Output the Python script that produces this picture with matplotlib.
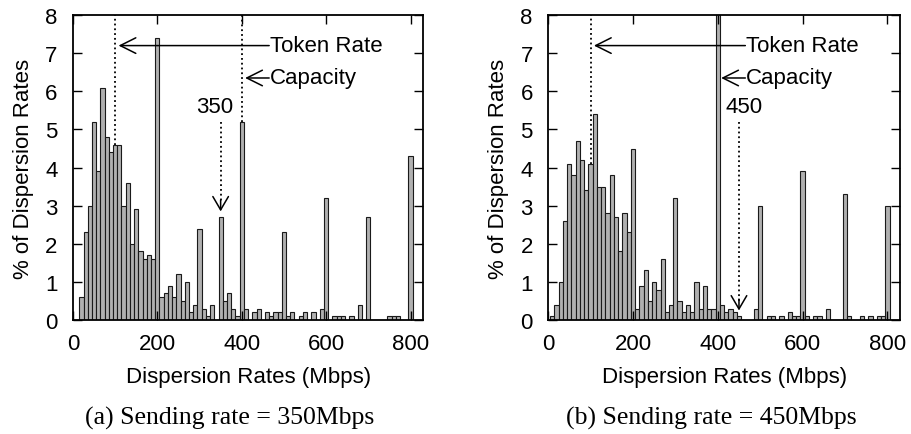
import matplotlib
matplotlib.use('Agg')
import matplotlib.pyplot as plt

plt.rcParams['font.family'] = ['Liberation Sans', 'DejaVu Sans']
plt.rcParams['font.size'] = 16

# dispersion rate bins (Mbps) and % of samples, sending rate = 350Mbps
rates_a = [20, 30, 40, 50, 60, 70, 80, 90, 100, 110, 120, 130, 140, 150, 160, 170,
           180, 190, 200, 210, 220, 230, 240, 250, 260, 270, 280, 290, 300, 310, 320,
           330, 350, 360, 370, 380, 390, 400, 410, 430, 440, 460, 470, 480, 490, 500,
           510, 520, 540, 550, 570, 590, 600, 620, 630, 640, 660, 680, 700, 750, 760,
           770, 800]
pct_a = [0.6, 2.3, 3.0, 5.2, 3.9, 6.1, 4.8, 4.4, 4.6, 4.6, 3.0, 3.6, 2.0, 2.9, 1.8, 1.6,
         1.7, 1.6, 7.4, 0.6, 0.7, 0.9, 0.6, 1.2, 0.5, 1.0, 0.2, 0.4, 2.4, 0.3, 0.1,
         0.4, 2.7, 0.5, 0.7, 0.3, 0.1, 5.2, 0.3, 0.2, 0.3, 0.2, 0.1, 0.2, 0.2, 2.3,
         0.1, 0.2, 0.1, 0.2, 0.2, 0.3, 3.2, 0.1, 0.1, 0.1, 0.1, 0.4, 2.7, 0.1, 0.1,
         0.1, 4.3]

# sending rate = 450Mbps
rates_b = [10, 20, 30, 40, 50, 60, 70, 80, 90, 100, 110, 120, 130, 140, 150, 160,
           170, 180, 190, 200, 210, 220, 230, 240, 250, 260, 270, 280, 290, 300, 310,
           320, 330, 340, 350, 360, 370, 380, 390, 400, 410, 420, 430, 440, 450, 490,
           500, 520, 530, 550, 570, 580, 590, 600, 610, 630, 640, 660, 700, 710, 740,
           760, 780, 790, 800]
pct_b = [0.1, 0.4, 1.0, 2.6, 4.1, 3.8, 4.7, 4.2, 3.4, 4.1, 5.4, 3.5, 3.5, 2.8, 3.8, 2.7,
         1.8, 2.8, 2.3, 4.5, 0.3, 0.9, 1.3, 0.5, 1.0, 0.8, 1.6, 0.2, 0.4, 3.2, 0.5,
         0.2, 0.4, 0.2, 1.0, 0.3, 0.9, 0.3, 0.3, 8.4, 0.4, 0.2, 0.3, 0.2, 0.1, 0.3,
         3.0, 0.1, 0.1, 0.1, 0.2, 0.1, 0.1, 3.9, 0.1, 0.1, 0.1, 0.3, 3.3, 0.1, 0.1,
         0.1, 0.1, 0.1, 3.0]

token_rate = 100
capacity = 400
captions = ['(a) Sending rate = 350Mbps', '(b) Sending rate = 450Mbps']

fig = plt.figure(figsize=(9.12, 4.35), dpi=100)
ax1 = fig.add_axes([0.080, 0.262, 0.384, 0.701])
ax2 = fig.add_axes([0.601, 0.262, 0.386, 0.701])


def setup(ax, rates, pct, send_rate, cap_line, text_x, caption, cap_x):
    ax.bar(rates, pct, width=10, color='#b0b0b0', edgecolor='#1a1a1a', linewidth=0.8)
    ax.set_xlim(0, 830)
    ax.set_ylim(0, 8)
    ax.set_xticks([0, 200, 400, 600, 800])
    ax.set_yticks(range(9))
    ax.tick_params(direction='in', length=6.5, width=1, top=True, right=True)
    ax.tick_params(axis='x', pad=9)
    ax.tick_params(axis='y', pad=11)
    for s in ax.spines.values():
        s.set_linewidth(1.3)
    ax.set_xlabel('Dispersion Rates (Mbps)', labelpad=9)
    ax.set_ylabel('% of Dispersion Rates', labelpad=8)

    # token rate marker
    h_tok = pct[rates.index(token_rate)]
    ax.plot([token_rate, token_rate], [h_tok, 8], ':', color='black', lw=1.3)
    ax.annotate('', xy=(token_rate + 8, 7.2), xytext=(465, 7.2),
                arrowprops=dict(arrowstyle='->,head_length=0.7,head_width=0.35',
                                color='black', lw=1.1, shrinkA=0, shrinkB=0))
    ax.text(466, 7.2, 'Token Rate', va='center', ha='left')

    # capacity marker
    if cap_line:
        h_cap = pct[rates.index(capacity)]
        ax.plot([capacity, capacity], [h_cap, 8], ':', color='black', lw=1.3)
    ax.annotate('', xy=(capacity + 8, 6.35), xytext=(465, 6.35),
                arrowprops=dict(arrowstyle='->,head_length=0.7,head_width=0.35',
                                color='black', lw=1.1, shrinkA=0, shrinkB=0))
    ax.text(466, 6.35, 'Capacity', va='center', ha='left')

    # sending rate marker
    h_send = pct[rates.index(send_rate)] if send_rate in rates else 0
    tip = h_send + 0.15
    ax.plot([send_rate, send_rate], [5.2, tip + 0.25], ':', color='black', lw=1.3)
    ax.annotate('', xy=(send_rate, tip), xytext=(send_rate, tip + 0.3),
                arrowprops=dict(arrowstyle='->,head_length=0.6,head_width=0.35',
                                color='black', lw=1.1, shrinkA=0, shrinkB=0))
    ax.text(text_x, 5.6, str(send_rate), va='center', ha='center')

    fig.text(cap_x, 0.037, caption, ha='center', va='center',
             family=['Liberation Serif', 'DejaVu Serif'], fontsize=18.5)


setup(ax1, rates_a, pct_a, 350, True, 335, captions[0], 0.252)
setup(ax2, rates_b, pct_b, 450, False, 462, captions[1], 0.780)

fig.savefig('out.png', dpi=100)
